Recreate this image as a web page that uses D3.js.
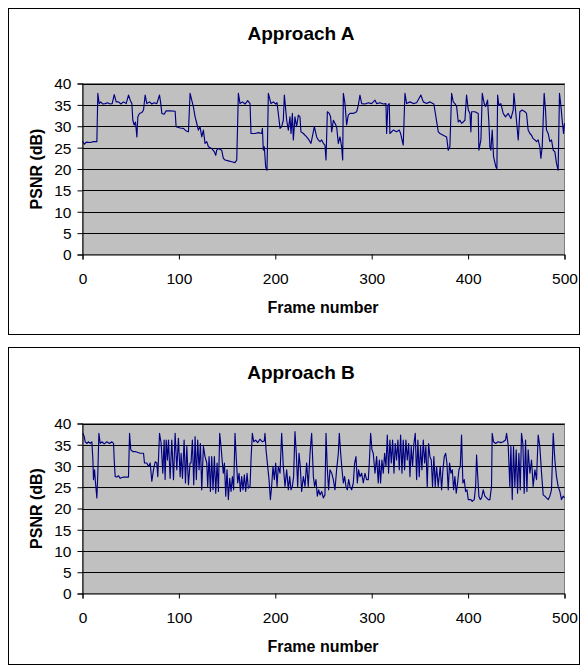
<!DOCTYPE html>
<html><head><meta charset="utf-8">
<script src="https://cdn.jsdelivr.net/npm/d3@7"></script>
<style>body{margin:0;background:#fff}svg{display:block}text{font-family:"Liberation Sans",Arial,sans-serif}</style>
</head><body><svg id="c" width="588" height="668"></svg>
<script>
const xTicks = [0,100,200,300,400,500];
const yTicks = [0,5,10,15,20,25,30,35,40];
const titles = ["Approach A","Approach B"];
const xLabel = "Frame number";
const yLabel = "PSNR (dB)";

const framesA = [0,2,4,8,11.5,14.9,15.9,17.3,19,21,23.5,26,28.7,30.8,32.9,35,37.4,39.8,42.5,45.3,47.7,49.5,51.2,52.2,53.6,55,56.4,57.4,59.1,61.5,63.3,65,66.7,69.5,71.9,74.3,77.1,79.9,81.2,82.3,84.7,86.8,90.9,96.1,97.1,101.3,104.7,107.5,109.9,111.6,113.3,115,116.8,118.5,120.2,121.9,123.7,125.4,127.1,128.9,130.6,134,136.8,138.2,139.2,141,144.4,146.1,147.9,151.3,154.8,158.2,160,161.7,163.4,165.8,168.6,171.4,173.8,174.8,179,182.4,185.9,186.6,187.6,188.6,190,191.4,192.8,195.5,198,200.4,201.8,203.1,204.9,206.6,208.3,209.4,211.8,213.5,215.2,216.3,217.7,218.7,220.4,222.1,223.9,225.6,226.6,229.1,232.5,234.9,237,238.4,240.5,242.9,244.6,246.4,248.1,249.8,251.5,252.6,254,256,257.4,258.5,260.2,261.9,263.6,265.4,267.1,268.8,269.9,270.6,272.3,274,275.7,277.5,280.9,284.4,286.1,287.8,289.6,293,296.5,299.9,303.4,305.1,308.6,312,314.8,315.5,316.8,318.2,318.9,322.4,325.8,328.6,330,332.7,334.5,336.2,339.7,343.1,346.6,351,353.5,356.9,360.4,364.5,366.6,369.1,370.8,374.2,377.7,379.4,381.1,382.9,384.6,386.3,388.1,389.8,391.5,393.2,395,396.7,398.4,400.2,401.9,402.9,403.6,407.1,410.5,411.2,413.3,414.7,416.7,418.1,420.2,421.6,422.6,423.6,425,426.4,428.8,429.9,430.6,431.9,434,436.4,438.8,441.6,444.4,446.8,447.5,449.2,452,453.7,456.1,458.9,460.6,462.3,464.1,465.8,467.5,469.3,471,472.7,474.4,475.5,476.9,478.9,480.3,481.3,483.1,484.8,486.5,488.3,490,491.7,493.4,494.8,496.2,497.6,499,500];
const psnrA = [26.5,25.8,26.3,26.2,26.4,26.4,37.7,35.3,35.7,35.2,35.3,35.5,35.2,35.3,37.4,35.7,35.7,35.2,35.7,35.3,37.3,36.1,35.3,31.4,30.3,31.0,27.5,32.2,33.0,33.2,33.8,37.3,35.3,35.7,35.2,35.5,35.3,37.3,35.3,33.0,32.8,33.6,33.6,33.5,29.9,29.6,29.5,28.9,28.7,37.7,36.1,34.6,32.2,30.7,29.1,29.9,27.5,29.1,26.0,26.4,25.2,24.8,24.0,23.2,24.4,24.8,24.4,22.5,22.1,21.9,21.7,21.5,22.1,37.7,35.3,35.7,35.2,36.0,35.3,28.3,28.3,28.5,28.3,29.5,24.4,25.2,20.5,19.7,37.7,35.3,35.7,35.2,35.5,33.0,29.5,29.9,31.4,37.3,31.4,29.1,32.2,28.3,33.0,26.8,32.2,29.9,32.6,32.2,28.7,28.3,27.5,26.8,26.0,27.5,29.9,27.5,26.8,26.4,26.8,26.0,25.6,22.1,33.4,33.0,32.2,28.7,31.4,30.7,29.9,26.0,27.5,25.2,22.1,37.7,35.3,30.3,32.6,33.0,33.0,33.4,34.9,37.3,35.3,35.2,35.5,35.3,36.1,35.3,35.5,35.2,35.3,28.3,34.9,35.3,28.3,29.1,28.7,29.1,28.3,25.6,37.7,35.3,35.7,35.3,35.5,37.3,35.7,35.3,35.7,35.2,32.2,28.7,28.3,27.9,27.5,24.4,25.2,37.7,35.7,35.3,34.6,31.0,31.4,30.7,31.0,31.4,37.3,33.8,33.0,28.7,33.4,33.4,33.0,24.4,26.8,37.7,35.3,34.6,36.1,30.7,25.2,24.4,29.1,22.9,20.5,20.1,37.3,34.9,35.3,33.0,32.2,33.0,31.8,33.8,37.7,33.8,26.8,33.4,33.8,33.4,33.0,29.1,28.3,27.9,27.1,26.8,26.4,26.8,25.2,22.5,25.2,37.7,33.8,29.1,28.3,26.4,26.8,24.4,24.0,21.3,19.7,37.7,34.9,31.4,28.3,30.7];

const framesB = [0.4,1.8,2.8,4.5,6.3,8,9.7,10.8,11.4,12.5,13.5,14.9,15.9,17,18.4,20.1,22.5,25.3,28,30.5,32.2,32.9,33.9,35.6,37.4,39.1,42.5,47.7,48.8,50.1,52.2,54.6,59.8,63.3,64.3,66.7,68.5,70.2,71.9,73.6,75.4,77.1,78.1,79.9,81.6,83.3,84.7,85.7,86.8,88.1,89.2,90.9,92.6,94.4,96.1,97.8,99.5,101.3,102.3,103.7,105.4,106.8,108.2,109.9,111.6,112.6,114,115.4,116.8,118.1,119.5,120.9,122.3,123.7,125.4,127.1,128.9,129.9,131.3,132.7,134,135.4,136.8,138.2,139.6,141,142.3,143.7,145.1,146.1,147.2,148.6,149.9,151.3,152.7,154.1,155.5,156.8,158.2,159.6,161,162.4,163.8,165.1,166.5,167.9,169.3,170.7,172,173.8,174.8,176.2,177.6,179.6,181.7,184.1,186.6,188.6,189.3,190.4,192.1,193.5,194.9,196.2,197.6,199,200.4,201.8,203.1,204.9,206.6,208.3,210.1,211.8,213.5,214.9,216.3,217.7,219,220.4,221.8,223.2,224.6,225.9,227.3,229.1,230.8,232.5,234.2,236,237.7,239.5,240.8,242.2,243.6,245,246.4,248.1,249.8,251.5,252.6,254,255.3,256.7,258.5,260.2,261.9,263.6,265.4,266.4,267.8,269.2,270.6,271.9,273.3,274.7,276.1,277.5,279.2,280.9,282.3,283.7,285.1,286.4,287.8,289.6,291.3,293,294.7,296.5,297.5,298.9,300.3,301.6,303.4,305.1,306.8,307.9,309.2,310.6,312,313.4,314.8,316.2,317.5,318.9,320.3,321.7,323.1,324.4,325.8,327.2,328.6,330,331.4,332.7,334.1,335.5,336.9,338.3,339.7,341,342.4,343.8,345.2,346.6,347.9,349.3,350.7,352.1,353.5,354.9,356.2,357.6,359,360.4,361.8,363.1,364.5,365.9,367.3,369,371.1,372.5,373.9,375.3,376.7,378,379.4,380.8,382.2,383.6,385,386.3,387.7,389.1,390.5,391.9,393.2,394.6,396,397.4,398.8,400.2,402.9,404.3,406.4,407.8,408.8,409.8,411.2,412.6,414,415.7,417.4,419.2,420.9,422.6,424.3,425,426.4,428.5,431.2,434,436.4,438.8,439.9,441.6,443.3,444.4,445.8,447.1,448.5,449.9,451.3,452.7,454.1,455.4,456.8,458.2,459.6,461,462.3,464.1,465.8,467.5,469.3,471,472.7,474.4,476.2,477.9,479.6,481.3,483.1,484.8,486.5,488.3,490,491.7,493.4,495.2,496.9,498.6,500];
const psnrB = [37.7,36.9,35.7,35.3,35.7,35.3,35.7,31.4,26.8,29.1,26.0,22.5,28.3,37.7,35.3,35.7,35.2,35.7,35.3,35.7,35.3,31.4,27.5,27.4,27.7,27.1,27.4,27.4,37.7,33.8,33.4,33.4,33.0,33.0,30.7,30.7,29.9,30.7,26.4,29.1,31.0,30.7,27.5,37.7,35.3,28.3,36.1,26.8,36.1,31.4,36.1,27.1,36.1,26.8,37.7,29.1,36.5,27.5,33.0,27.1,36.1,26.0,34.6,25.6,30.7,30.7,36.1,25.6,36.9,26.8,36.1,29.1,35.3,24.4,34.6,32.2,30.7,25.2,32.2,24.0,32.2,24.4,32.2,23.6,30.7,24.0,37.7,34.6,30.7,28.3,30.7,22.9,29.1,22.1,27.1,24.0,27.5,24.4,37.7,31.4,26.0,28.3,24.0,27.5,24.4,27.9,24.0,28.3,24.8,25.2,31.4,37.7,35.7,36.1,35.5,36.3,35.7,35.9,37.7,33.8,29.9,26.8,22.1,25.2,29.9,26.8,30.7,25.2,29.9,28.3,37.7,29.9,25.2,29.1,24.4,27.5,24.4,25.2,27.5,38.1,33.0,25.2,33.0,29.9,24.0,27.5,25.2,30.7,25.2,33.0,37.7,27.5,25.2,26.8,22.9,24.4,23.2,24.0,22.5,23.2,37.7,29.1,24.4,29.1,28.3,26.8,24.4,29.1,33.0,37.7,33.0,29.1,26.0,27.5,25.2,24.4,26.8,25.2,24.4,26.0,30.7,32.2,26.0,29.1,27.5,28.3,26.0,28.3,26.8,26.8,30.7,37.7,33.8,33.0,28.3,32.2,26.0,31.4,26.0,31.4,28.3,33.0,29.9,37.3,28.3,36.1,30.7,36.1,28.3,35.3,31.4,36.1,29.1,37.3,28.3,36.1,29.1,36.1,31.4,35.3,27.5,34.6,29.9,35.3,37.7,26.8,36.1,27.5,34.6,29.1,36.1,30.7,34.6,25.2,35.3,32.2,31.4,25.2,32.2,25.2,29.9,25.2,29.9,24.4,29.1,32.2,33.0,30.7,24.4,30.7,28.3,29.1,24.4,27.5,23.6,26.0,29.1,29.9,37.3,26.0,26.8,24.0,24.4,22.1,22.1,21.7,22.1,25.2,32.6,28.3,22.9,22.1,22.5,24.4,22.9,22.5,22.1,22.1,25.2,37.7,35.7,35.3,35.7,35.5,35.7,36.1,37.7,34.9,25.2,34.6,22.1,34.6,25.2,33.8,23.6,33.0,24.4,37.7,35.3,23.6,36.1,24.0,33.8,28.3,31.4,25.2,29.1,26.8,37.3,34.6,28.3,23.2,22.9,22.5,22.1,22.9,24.4,37.7,31.4,27.5,25.2,24.0,22.1,22.9,22.5];

const panels = [
  {frames: framesA, psnr: psnrA, top: 8, h: 326, plotTop: 83.5, plotBot: 254.5, titleY: 40, tickY: 283, xlabY: 313},
  {frames: framesB, psnr: psnrB, top: 347, h: 317, plotTop: 423.5, plotBot: 593.5, titleY: 379, tickY: 622, xlabY: 652}
];
const svg = d3.select("#c");
const L = 82.5, R = 564.5;

panels.forEach((p, i) => {
  const g = svg.append("g");
  g.append("rect").attr("x", 8.5).attr("y", p.top + 0.5).attr("width", 571).attr("height", p.h)
    .attr("fill", "#fff").attr("stroke", "#000").attr("stroke-width", 1);
  const x = d3.scaleLinear().domain([0, 500]).range([L, R]);
  const y = d3.scaleLinear().domain([0, 40]).range([p.plotBot, p.plotTop]);
  g.append("rect").attr("x", L).attr("y", p.plotTop).attr("width", R - L).attr("height", p.plotBot - p.plotTop)
    .attr("fill", "#c0c0c0").attr("stroke", "#808080").attr("stroke-width", 1);
  g.append("g").selectAll("line").data(yTicks.filter(d => d > 0)).join("line")
    .attr("x1", L).attr("x2", R).attr("y1", d => Math.round(y(d)) + 0.5).attr("y2", d => Math.round(y(d)) + 0.5)
    .attr("stroke", "#000").attr("stroke-width", 1);
  const line = d3.line().x((d, k) => x(p.frames[k])).y(d => y(d));
  g.append("path").datum(p.psnr).attr("d", line).attr("fill", "none")
    .attr("stroke", "#000080").attr("stroke-width", 1.15).attr("stroke-linejoin", "round");
  const ya = d3.axisLeft(y).tickValues(yTicks).tickSize(5).tickPadding(6);
  const yg = g.append("g").attr("transform", `translate(${L},0)`).call(ya);
  const xa = d3.axisBottom(x).tickValues(xTicks).tickSize(5).tickPadding(13);
  const xg = g.append("g").attr("transform", `translate(0,${p.plotBot})`).call(xa);
  [yg, xg].forEach(a => {
    a.select(".domain").attr("stroke", "#000");
    a.selectAll(".tick line").attr("stroke", "#000");
    a.selectAll("text").attr("font-size", 15.5).attr("fill", "#000").attr("font-family", '"Liberation Sans", Arial, sans-serif');
  });
  yg.selectAll("text").attr("dy", "0.35em");
  g.append("text").attr("x", 301).attr("y", p.titleY).attr("text-anchor", "middle")
    .attr("font-size", 19).attr("font-weight", "bold").text(titles[i]);
  g.append("text").attr("x", 323).attr("y", p.xlabY).attr("text-anchor", "middle")
    .attr("font-size", 16).attr("font-weight", "bold").text(xLabel);
  g.append("text").attr("transform", `translate(42,${(p.plotTop + p.plotBot) / 2}) rotate(-90)`)
    .attr("text-anchor", "middle").attr("font-size", 16).attr("font-weight", "bold").text(yLabel);
});
</script></body></html>
